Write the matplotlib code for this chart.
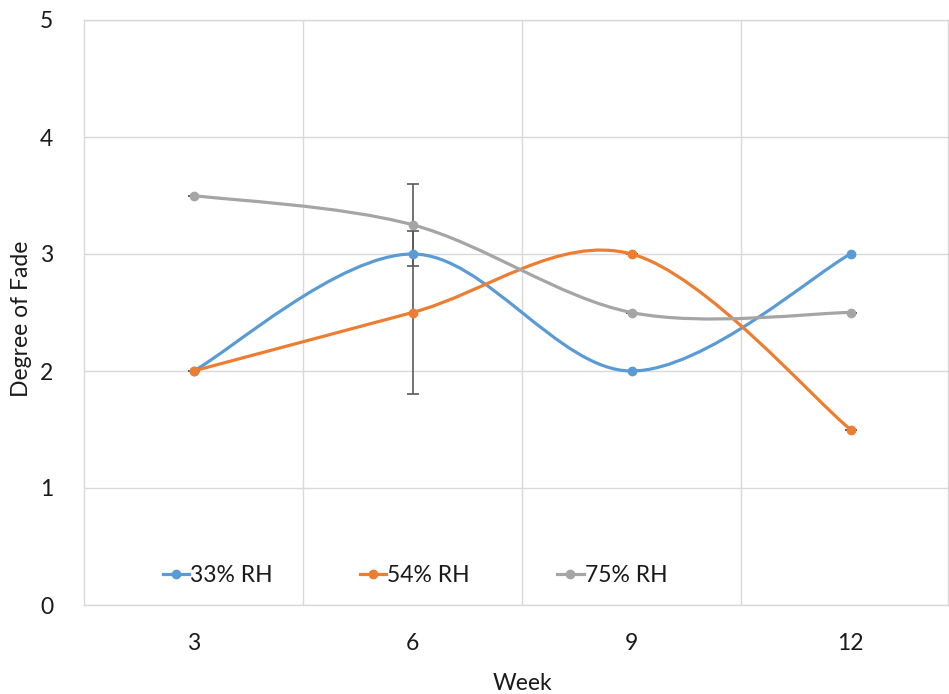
import numpy as np
import matplotlib
matplotlib.use("Agg")
import matplotlib.pyplot as plt
from matplotlib.path import Path
from matplotlib.patches import PathPatch
from matplotlib.lines import Line2D

plt.rcParams['font.family'] = ['Lato', 'DejaVu Sans']

weeks = ["3", "6", "9", "12"]
series_names = ["33% RH", "54% RH", "75% RH"]
rh33 = [2.0, 3.0, 2.0, 3.0]
rh54 = [2.0, 2.5, 3.0, 1.5]
rh75 = [3.5, 3.25, 2.5, 2.5]
err54 = [0.0, 0.7, 0.0, 0.0]
err75 = [0.0, 0.35, 0.0, 0.0]
colors = ["#5B9BD5", "#ED7D31", "#A5A5A5"]

W, H = 949, 694
fig = plt.figure(figsize=(W / 100, H / 100), dpi=100)
ax = fig.add_axes([84 / W, 89 / H, 876 / W, 585 / H])

x = np.arange(len(weeks))


def smooth_path(xs, ys):
    pts = np.column_stack([xs, ys]).astype(float)
    n = len(pts)
    verts = [pts[0]]
    codes = [Path.MOVETO]
    for i in range(n - 1):
        p0 = pts[i - 1] if i > 0 else pts[i]
        p1 = pts[i]
        p2 = pts[i + 1]
        p3 = pts[i + 2] if i + 2 < n else pts[i + 1]
        c1 = p1 + (p2 - p0) / 6.0
        c2 = p2 - (p3 - p1) / 6.0
        verts += [c1, c2, p2]
        codes += [Path.CURVE4] * 3
    return Path(verts, codes)


data = [rh33, rh54, rh75]
errs = [None, err54, err75]
for vals, col, err in zip(data, colors, errs):
    if err is not None:
        ax.errorbar(x, vals, yerr=err, fmt='none', ecolor='#595959',
                    elinewidth=1.2, capsize=4, capthick=1.2, zorder=2)
for vals, col in zip(data, colors):
    patch = PathPatch(smooth_path(x, vals), facecolor='none', edgecolor=col,
                      lw=2.3, zorder=3, capstyle='round')
    ax.add_patch(patch)
    ax.plot(x, vals, linestyle='none', marker='o', markersize=6,
            color=col, zorder=4)

ax.set_xlim(-0.5, 3.5)
ax.set_ylim(0, 5)
ax.set_yticks(np.arange(0, 6, 1))
ax.set_xticks(x)
ax.set_xticklabels(weeks)
ax.set_xticks(np.arange(0.5, 3.5, 1), minor=True)
ax.grid(True, axis='y', color='#D9D9D9', lw=1)
ax.grid(True, axis='x', which='minor', color='#D9D9D9', lw=1)
ax.set_axisbelow(True)
ax.tick_params(axis='both', which='both', length=0, labelsize=16.5,
               colors='#1a1a1a')
ax.tick_params(axis='y', pad=22)
ax.tick_params(axis='x', pad=20)
for s in ax.spines.values():
    s.set_color('#D9D9D9')
    s.set_linewidth(1)
ax.spines['right'].set_visible(False)

# right border of the (cropped) chart area
fig.add_artist(Line2D([947.5 / W, 947.5 / W], [89 / H, 674 / H],
                      transform=fig.transFigure, color='#D9D9D9', lw=1))

ax.set_xlabel("Week", fontsize=16.5, color='#1a1a1a', labelpad=14)
ax.set_ylabel("Degree of Fade", fontsize=16.5, color='#1a1a1a')
ax.yaxis.set_label_coords(-52 / 876, 0.489)

handles = [Line2D([0], [0], color=c, lw=2.3, marker='o', markersize=6)
           for c in colors]
ax.legend(handles, series_names, loc='center', ncol=3, frameon=False,
          bbox_to_anchor=((415 - 84) / 876, 0.05), fontsize=16.5,
          handlelength=1.15, handletextpad=0.05, columnspacing=3.8,
          labelcolor='#1a1a1a')

fig.savefig("out.png", dpi=100)
